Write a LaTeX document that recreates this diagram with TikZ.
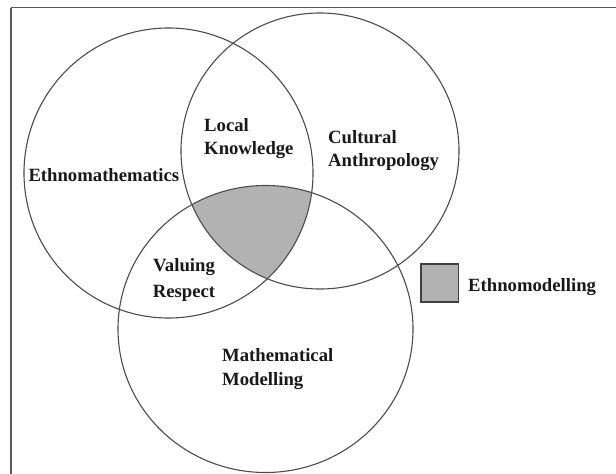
\documentclass[tikz,border=0pt]{standalone}
\usepackage{fontspec}
\setmainfont{Liberation Serif}
\begin{document}
\begin{tikzpicture}[x=1pt,y=-1pt,
  ring/.style={draw=black!70, line width=1.1pt},
  lbl/.style={anchor=base west, inner sep=0pt, font=\fontsize{18.7}{23}\selectfont\bfseries, text=black!90},
  lblc/.style={anchor=base, inner sep=0pt, font=\fontsize{18.7}{23}\selectfont\bfseries, text=black!90},
  core/.style={fill=black!30},
  keybox/.style={draw=black!75, fill=black!30, line width=1.3pt}]
\useasboundingbox (0,0) rectangle (616,474);
\clip (0,0) rectangle (616,474);
\fill[white] (0,0) rectangle (616,474);
% frame
\draw[black!65, line width=1.6pt] (10.7,7.5) -- (630,7.5);
\draw[black!65, line width=1.6pt] (10.7,7.5) -- (10.7,490);
% shaded triple intersection
\begin{scope}
  \clip (168.5,173) ellipse [x radius=144.5, y radius=145];
  \clip (320,151) ellipse [x radius=139, y radius=138];
  \fill[core] (265.5,329) ellipse [x radius=147.5, y radius=143.5];
\end{scope}
% circles
\draw[ring] (168.5,173) ellipse [x radius=144.5, y radius=145];
\draw[ring] (320,151) ellipse [x radius=139, y radius=138];
\draw[ring] (265.5,329) ellipse [x radius=147.5, y radius=143.5];
% labels
\node[lbl] (em) at (28.3,181) {Ethnomathematics};
\node[lbl] (lk1) at (204,131) {Local};
\node[lbl] (lk2) at (204,154) {Knowledge};
\node[lbl] (ca1) at (328,143) {Cultural};
\node[lbl] (ca2) at (328,166) {Anthropology};
\node[lblc] (vr1) at (184,271) {Valuing};
\node[lblc] (vr2) at (184,297) {Respect};
\node[lbl] (mm1) at (222,361) {Mathematical};
\node[lbl] (mm2) at (222,385) {Modelling};
% legend
\draw[keybox] (421,264) rectangle (458.7,302);
\node[lbl] (leg) at (468,291) {Ethnomodelling};
\end{tikzpicture}
\end{document}
